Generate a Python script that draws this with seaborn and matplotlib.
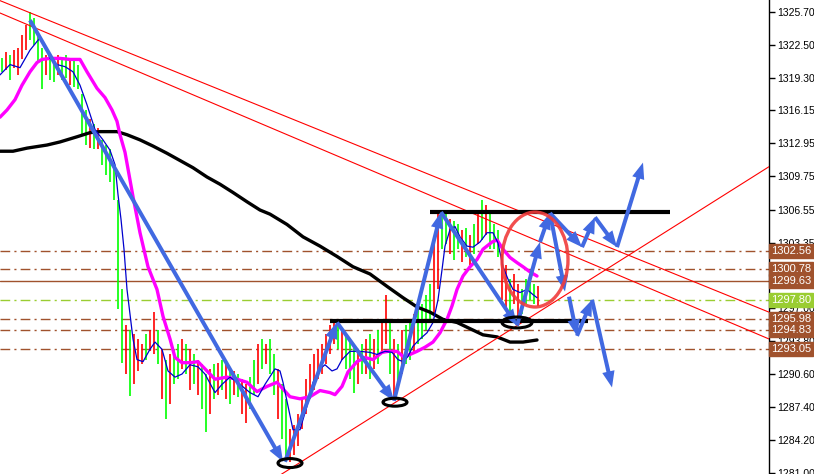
import matplotlib
matplotlib.use("Agg")
import matplotlib.pyplot as plt
from matplotlib.patches import Ellipse
import matplotlib.transforms as mtransforms
import pandas as pd
import seaborn as sns

# price bars (high / low) and direction, one per bar index
highs = [1321.2, 1321.8, 1321.5, 1322.0, 1322.2, 1323.5, 1324.4, 1325.7, 1325.1, 1323.5,
         1322.2, 1321.5, 1321.5, 1321.2, 1321.5, 1321.2, 1321.5, 1321.1, 1320.9, 1320.6,
         1317.7, 1316.2, 1315.3, 1314.8, 1314.5, 1313.3, 1312.8, 1312.4, 1310.9, 1307.5,
         1298.8, 1295.4, 1294.9, 1294.5, 1294.0, 1293.5, 1294.5, 1294.9, 1296.6, 1294.9,
         1293.0, 1292.0, 1292.5, 1293.0, 1293.5, 1294.0, 1293.5, 1293.0, 1292.5, 1292.0,
         1291.6, 1290.6, 1291.1, 1291.6, 1291.7, 1292.0, 1291.6, 1291.1, 1290.9, 1290.6,
         1290.1, 1289.6, 1290.3, 1292.0, 1293.5, 1294.0, 1293.5, 1294.0, 1292.5, 1291.1,
         1289.6, 1288.2, 1285.3, 1285.7, 1286.7, 1288.2, 1290.1, 1291.6, 1292.5, 1293.0,
         1293.5, 1294.5, 1295.4, 1295.7, 1295.4, 1294.9, 1294.5, 1294.0, 1293.5, 1293.0,
         1293.5, 1294.0, 1294.5, 1294.0, 1294.9, 1295.9, 1298.3, 1295.9, 1294.0, 1293.5,
         1294.9, 1295.4, 1295.9, 1296.4, 1296.9, 1297.4, 1298.3, 1299.3, 1303.6, 1306.1,
         1306.4, 1306.1, 1305.6, 1305.4, 1305.1, 1304.6, 1304.8, 1304.1, 1305.1, 1306.1,
         1307.5, 1307.0, 1306.1, 1305.1, 1304.6, 1302.2, 1301.2, 1299.8, 1300.3, 1299.3,
         1298.8, 1299.8, 1300.3, 1299.3, 1299.1]
lows = [1319.9, 1320.1, 1319.1, 1320.3, 1319.6, 1321.1, 1322.0, 1323.0, 1322.5, 1320.9,
        1318.2, 1319.6, 1319.1, 1318.9, 1319.6, 1319.1, 1319.3, 1318.6, 1318.4, 1318.2,
        1313.8, 1312.8, 1312.5, 1312.4, 1312.4, 1310.9, 1309.9, 1309.2, 1307.5, 1296.9,
        1291.7, 1290.6, 1288.5, 1289.6, 1290.9, 1291.6, 1292.0, 1292.8, 1292.5, 1291.6,
        1288.2, 1286.2, 1287.7, 1289.6, 1290.1, 1291.1, 1290.6, 1289.1, 1289.6, 1288.6,
        1287.2, 1285.0, 1286.7, 1288.2, 1288.6, 1289.1, 1288.2, 1287.7, 1288.6, 1288.4,
        1286.7, 1285.9, 1287.2, 1288.6, 1289.6, 1291.1, 1291.6, 1290.6, 1288.6, 1286.2,
        1284.3, 1282.1, 1282.1, 1282.8, 1283.6, 1285.3, 1286.7, 1288.2, 1289.1, 1290.1,
        1290.6, 1291.6, 1292.5, 1293.5, 1293.0, 1292.0, 1291.1, 1290.1, 1288.8, 1289.6,
        1290.6, 1290.6, 1290.1, 1291.1, 1291.6, 1292.5, 1293.5, 1290.6, 1288.5, 1289.6,
        1290.6, 1291.6, 1292.0, 1292.5, 1293.5, 1294.0, 1294.9, 1295.9, 1296.4, 1298.8,
        1302.7, 1303.2, 1302.2, 1301.7, 1302.7, 1301.5, 1301.9, 1301.2, 1302.2, 1303.2,
        1303.6, 1304.1, 1302.7, 1302.7, 1301.9, 1297.8, 1296.9, 1296.4, 1297.4, 1296.2,
        1296.4, 1297.4, 1297.8, 1297.4, 1297.2]
direction = ("GRGRRRRGGGGRGGRGGRGG" "GGRGRGGGGGGRGRRRGRRG" "RGRGGRGRGRGGRGRGRGRG"
             "RRGGRGRGGRGGRRRRRRRR" "RRRRGRGGGRGRGRGRRGRG" "RGGRGGGGRRGGRGGRGRGR"
             "GRGGGRRGRRGGGGR")

# moving averages (bar index, price)
fast_ma = [(-0.5, 1319.6), (2, 1320.6), (4.5, 1320.3), (7, 1322.0), (9.5, 1323.2), (10.75, 1322.5),
           (12, 1321.2), (13.75, 1320.6), (15.75, 1320.4), (17.75, 1319.9), (19.5, 1318.6),
           (21.25, 1316.7), (23.25, 1314.3), (25.25, 1313.3), (27, 1312.3), (28.25, 1310.9),
           (29, 1308.0), (29.75, 1305.6), (30.5, 1302.7), (31.25, 1298.8), (32, 1296.4),
           (32.75, 1294.0), (33.75, 1292.0), (35.25, 1291.8), (37, 1293.0), (38.25, 1293.7),
           (40, 1293.0), (41.5, 1290.9), (43.25, 1290.3), (45, 1290.6), (47, 1291.5), (49, 1291.3),
           (50.75, 1290.6), (53.25, 1288.8), (55, 1289.6), (57, 1290.3), (59.5, 1289.6), (62, 1288.8),
           (64, 1288.4), (65.75, 1289.6), (68.25, 1291.1), (69.5, 1290.9), (70.25, 1289.8),
           (71.5, 1287.5), (72.75, 1285.2), (74.5, 1285.2), (76.25, 1287.5), (77.75, 1289.8),
           (79.5, 1291.1), (80.75, 1291.5), (82.5, 1290.9), (83.75, 1291.1), (85, 1292.0),
           (87, 1292.8), (89.5, 1292.8), (92, 1292.7), (93.75, 1292.5), (95.75, 1292.8),
           (97.5, 1292.7), (99, 1292.0), (100.25, 1291.8), (101.5, 1292.3), (102.75, 1293.3),
           (104.5, 1294.0), (106.25, 1294.6), (107.75, 1295.6), (109, 1297.8), (110, 1300.7),
           (110.75, 1303.0), (112, 1304.6), (113.25, 1304.9), (114.5, 1303.9), (116.25, 1303.0),
           (117.75, 1302.9), (119.5, 1303.4), (121.25, 1304.3), (122.75, 1304.3), (124, 1303.3),
           (125.25, 1301.0), (126.5, 1299.8), (127.75, 1298.8), (129.5, 1298.5), (131.25, 1298.8),
           (132.75, 1298.3), (133.75, 1298.0)]
mid_ma = [(-0.5, 1315.5), (1.25, 1316.2), (3.25, 1317.2), (5, 1318.6), (7, 1319.9), (8.75, 1320.8),
          (10, 1321.1), (12, 1321.2), (14.5, 1321.2), (17, 1321.1), (19.5, 1321.1), (21.25, 1319.9),
          (23.75, 1318.3), (25.75, 1317.4), (27.5, 1316.2), (28.75, 1315.1), (29.5, 1313.8),
          (30.75, 1312.1), (32.75, 1307.8), (34.5, 1304.3), (36.5, 1301.0), (38.75, 1298.8),
          (40.25, 1296.2), (42, 1294.0), (43.25, 1292.2), (45, 1291.7), (47, 1291.7), (49, 1291.8),
          (50.75, 1291.1), (53.25, 1290.1), (56.25, 1290.3), (58.75, 1290.1), (61.25, 1289.8),
          (63.75, 1288.9), (66.25, 1289.4), (68.75, 1289.8), (72, 1288.4), (74.5, 1288.2),
          (77, 1288.4), (79.5, 1289.0), (82, 1288.8), (83.25, 1288.6), (85, 1289.4), (86.5, 1290.8),
          (88.75, 1291.8), (90.75, 1292.2), (92.75, 1292.0), (95, 1292.7), (96.5, 1292.8),
          (98.75, 1292.8), (100.25, 1292.3), (102, 1292.5), (103.75, 1292.8), (105.75, 1293.2),
          (107.75, 1293.7), (109.5, 1294.6), (111.25, 1295.9), (112.5, 1297.2), (113.75, 1298.8),
          (115.25, 1300.1), (117, 1301.0), (118.75, 1301.7), (120.25, 1302.7), (122.5, 1303.4),
          (123.75, 1303.6), (125.25, 1302.7), (127, 1301.9), (128.75, 1301.4), (130.25, 1301.0),
          (132, 1300.5), (133.75, 1300.1)]
slow_ma = [(-0.5, 1312.2), (2.75, 1312.2), (6.25, 1312.5), (11.25, 1312.8), (14.5, 1313.1),
           (18.75, 1313.6), (22, 1314.0), (24.5, 1314.1), (28.75, 1314.1), (31.25, 1313.8),
           (34.5, 1313.3), (37.75, 1312.7), (41.25, 1312.0), (44.5, 1311.3), (47.75, 1310.6),
           (51.25, 1309.7), (54.5, 1309.0), (57.75, 1308.2), (61.25, 1307.3), (64.5, 1306.5),
           (67, 1306.1), (71.25, 1305.1), (75.25, 1303.9), (79.5, 1303.0), (83.75, 1302.0),
           (87.75, 1301.0), (92, 1300.3), (96.25, 1299.1), (100.25, 1298.0), (103.75, 1297.1),
           (107, 1296.6), (110.25, 1295.9), (113.75, 1295.6), (117, 1295.0), (120.25, 1294.4),
           (123.75, 1294.2), (127, 1293.7), (130.25, 1293.7), (133.75, 1293.9)]

# trend lines, support/resistance, price levels
trend_lines = [[(-0.5, 1326.8), (191.75, 1296.6)],
               [(-0.5, 1325.6), (191.75, 1294.0)],
               [(69.5, 1280.8), (191.75, 1310.7)]]
box_lines = [[(107, 1306.3), (167, 1306.3)], [(82, 1295.75), (146.5, 1295.75)]]
levels = [1302.56, 1300.78, 1299.63, 1297.80, 1295.98, 1294.83, 1293.05]
level_colors = ["#A0522D", "#A0522D", "#A0522D", "#9ACD32", "#A0522D", "#A0522D", "#A0522D"]
level_solid = [False, False, True, False, False, False, False]
y_ticks = [1325.70, 1322.50, 1319.30, 1316.15, 1312.95, 1309.75, 1306.55, 1303.35,
           1297.00, 1293.80, 1290.60, 1287.40, 1284.20, 1281.00]

# hand drawn arrows (from, to)
arrows = [((7.0, 1324.9), (70.25, 1282.1)), ((70.75, 1282.1), (83.75, 1295.6)),
          ((83.75, 1295.6), (98.0, 1288.0)), ((98.0, 1288.0), (109.75, 1306.3)),
          ((109.75, 1306.3), (128.75, 1295.3)), ((128.75, 1295.3), (134.5, 1303.4)),
          ((134.5, 1303.4), (137.0, 1306.2)), ((137.0, 1306.2), (140.75, 1298.6)),
          ((137.0, 1306.2), (145.0, 1302.9)), ((145.0, 1302.9), (148.25, 1305.8)),
          ((148.25, 1305.8), (153.75, 1302.9)), ((153.75, 1302.9), (160.25, 1311.1)),
          ((141.75, 1298.1), (143.75, 1294.3)), ((143.75, 1294.3), (147.5, 1297.8)),
          ((147.5, 1297.8), (152.5, 1289.3))]
# rings: (centre x, centre y, width, height)
rings = [(72, 1281.97, 6, 0.87), (98.25, 1287.87, 6, 0.77), (128.75, 1295.6, 7.5, 1.06)]
red_ring = (133.25, 1301.7, 16.5, 9.2)

sns.set_style("white")
plt.rcParams["font.family"] = ["Liberation Sans", "DejaVu Sans"]

fig = plt.figure(figsize=(8.14, 4.74), dpi=100)
ax = fig.add_axes([0, 0, 769 / 814, 1])

for lv, c, solid in zip(levels, level_colors, level_solid):
    ax.axhline(lv, color=c, lw=1, zorder=1,
               linestyle="-" if solid else (0, (7, 3, 1.5, 3)))

idx = list(range(len(highs)))
bar_colors = ["#00FF00" if d == "G" else "#FF0000" for d in direction]
ax.vlines(idx, lows, highs, colors=bar_colors, lw=1.2, zorder=2)

for pts, col, lw in [(slow_ma, "black", 2.4), (mid_ma, "#FF00FF", 2.4), (fast_ma, "#0000CD", 0.9)]:
    df = pd.DataFrame(pts, columns=["bar", "price"])
    sns.lineplot(data=df, x="bar", y="price", sort=False, estimator=None,
                 color=col, lw=lw, ax=ax, zorder=3)

for (p0, p1) in trend_lines:
    ax.plot([p0[0], p1[0]], [p0[1], p1[1]], color="red", lw=0.8, zorder=4)

for (p0, p1) in box_lines:
    ax.plot([p0[0], p1[0]], [p0[1], p1[1]], color="black", lw=3, zorder=5,
            solid_capstyle="butt")

for (p0, p1) in arrows:
    ax.annotate("", xy=p1, xytext=p0, zorder=6,
                arrowprops=dict(arrowstyle="simple,head_width=1.0,head_length=1.3,tail_width=0.32",
                                mutation_scale=9, color="#4169E1", shrinkA=0, shrinkB=0, lw=0))

for cx, cy, w, h in rings:
    ax.add_patch(Ellipse((cx, cy), w, h, fill=False, ec="black", lw=2.2, zorder=7))
ax.add_patch(Ellipse(red_ring[:2], red_ring[2], red_ring[3], fill=False,
                     ec="#F03C3C", lw=2.4, alpha=0.9, zorder=7))

ax.set_xlim(-0.5, 191.75)
ax.set_ylim(1281.0 - 0.09, 1326.86)
ax.set_xticks([])
ax.yaxis.tick_right()
ax.set_yticks(y_ticks)
ax.set_yticklabels([f"{v:.2f}" for v in y_ticks])
ax.tick_params(axis="y", direction="out", length=4, width=1, pad=2, labelsize=7.5, colors="black")
ax.set_xlabel("")
ax.set_ylabel("")
for s in ["top", "left", "bottom"]:
    ax.spines[s].set_visible(False)
ax.spines["right"].set_color("black")
ax.spines["right"].set_linewidth(1)

trans = mtransforms.blended_transform_factory(ax.transAxes, ax.transData)
for lv, c in zip(levels, level_colors):
    ax.text(1.003, lv, f"{lv:.2f}", transform=trans, ha="left", va="center",
            fontsize=8, color="white", clip_on=False, zorder=10,
            bbox=dict(boxstyle="square,pad=0.18", fc=c, ec=c))

fig.savefig("out.png", dpi=100)
